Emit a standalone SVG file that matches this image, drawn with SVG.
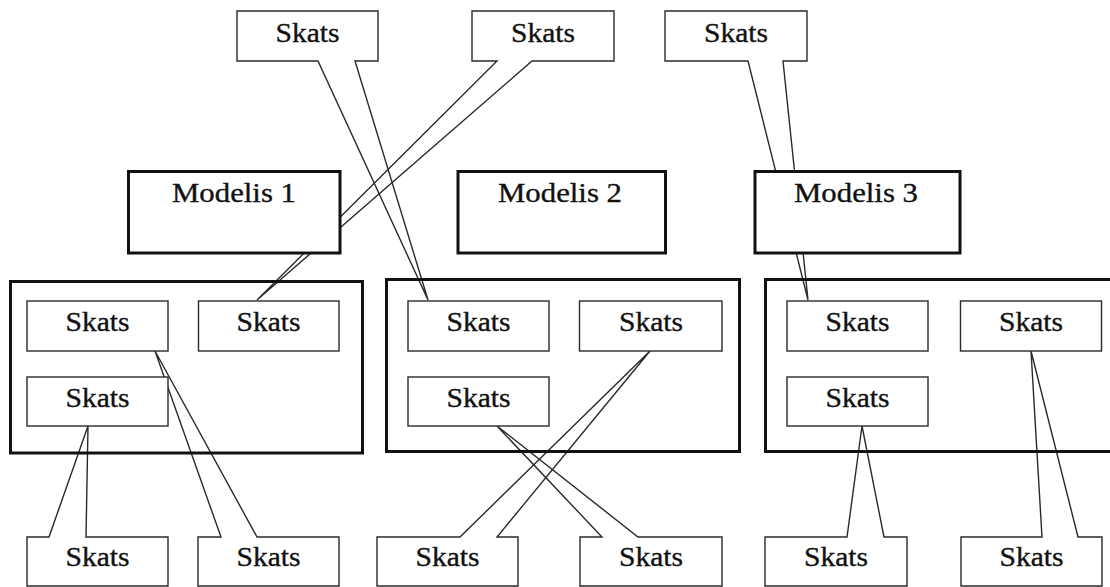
<svg xmlns="http://www.w3.org/2000/svg" width="1110" height="587" viewBox="0 0 1110 587">
<style>
.bg{fill:#ffffff}
.callout{fill:none;stroke:#2a2a2a;stroke-width:1.4;stroke-linejoin:miter}
.cont{fill:none;stroke:#111;stroke-width:3}
.model{fill:#ffffff;stroke:#111;stroke-width:3}
.box{fill:#ffffff;stroke:#2a2a2a;stroke-width:1.4}
text{font-family:"Liberation Serif","Times New Roman",serif;font-size:27px;fill:#111;stroke:#111;stroke-width:0.35;text-anchor:middle}
</style>
<rect class="bg" x="0" y="0" width="1110" height="587"/>
<g id="connectors">
<g id="callout-top-1"><path class="callout" d="M237,11 H378 V61 H355 L428,300 L318,61 H237 Z"/><text x="307.5" y="41.5" textLength="64" lengthAdjust="spacingAndGlyphs">Skats</text></g>
<g id="callout-top-2"><path class="callout" d="M472,11 H614 V61 H532 L257,300 L497,61 H472 Z"/><text x="543" y="41.5" textLength="64" lengthAdjust="spacingAndGlyphs">Skats</text></g>
<g id="callout-top-3"><path class="callout" d="M665,11 H807 V61 H783 L808,300 L748,61 H665 Z"/><text x="736" y="41.5" textLength="64" lengthAdjust="spacingAndGlyphs">Skats</text></g>
<g id="callout-bot-1"><path class="callout" d="M27,586 V537 H49 L88,426 L86,537 H168 V586 Z"/><text x="97.5" y="566" textLength="64" lengthAdjust="spacingAndGlyphs">Skats</text></g>
<g id="callout-bot-2"><path class="callout" d="M198,586 V537 H221 L155,351 L257,537 H339 V586 Z"/><text x="268.5" y="566" textLength="64" lengthAdjust="spacingAndGlyphs">Skats</text></g>
<g id="callout-bot-3"><path class="callout" d="M377,586 V537 H460 L650,351 L497,537 H518 V586 Z"/><text x="447.5" y="566" textLength="64" lengthAdjust="spacingAndGlyphs">Skats</text></g>
<g id="callout-bot-4"><path class="callout" d="M580,586 V537 H602 L497,426 L638,537 H722 V586 Z"/><text x="651" y="566" textLength="64" lengthAdjust="spacingAndGlyphs">Skats</text></g>
<g id="callout-bot-5"><path class="callout" d="M765,586 V537 H847 L862,426 L884,537 H907 V586 Z"/><text x="836" y="566" textLength="64" lengthAdjust="spacingAndGlyphs">Skats</text></g>
<g id="callout-bot-6"><path class="callout" d="M961,586 V537 H1042 L1031,351 L1078,537 H1102 V586 Z"/><text x="1031.5" y="566" textLength="64" lengthAdjust="spacingAndGlyphs">Skats</text></g>
</g>
<g id="container-1"><rect class="cont" x="10.5" y="281.5" width="352" height="171.5"/></g>
<g id="container-2"><rect class="cont" x="386.5" y="279.5" width="353" height="172"/></g>
<g id="container-3"><rect class="cont" x="765.5" y="279.5" width="360" height="172"/></g>
<g id="modelis-1"><rect class="model" x="128.5" y="171.5" width="211.5" height="81.5"/><text x="234" y="202" textLength="124" lengthAdjust="spacingAndGlyphs">Modelis 1</text></g>
<g id="modelis-2"><rect class="model" x="458" y="171.5" width="207.5" height="81.5"/><text x="560" y="202" textLength="124" lengthAdjust="spacingAndGlyphs">Modelis 2</text></g>
<g id="modelis-3"><rect class="model" x="755" y="171.5" width="205" height="81.5"/><text x="856" y="202" textLength="124" lengthAdjust="spacingAndGlyphs">Modelis 3</text></g>
<g id="c1-box-1"><rect class="box" x="27" y="301" width="141" height="50"/><text x="97.5" y="331" textLength="64" lengthAdjust="spacingAndGlyphs">Skats</text></g>
<g id="c1-box-2"><rect class="box" x="198.5" y="301" width="140.5" height="50"/><text x="268.5" y="331" textLength="64" lengthAdjust="spacingAndGlyphs">Skats</text></g>
<g id="c1-box-3"><rect class="box" x="27" y="377" width="141" height="49"/><text x="97.5" y="406.5" textLength="64" lengthAdjust="spacingAndGlyphs">Skats</text></g>
<g id="c2-box-1"><rect class="box" x="408" y="301" width="141" height="50"/><text x="478.5" y="331" textLength="64" lengthAdjust="spacingAndGlyphs">Skats</text></g>
<g id="c2-box-2"><rect class="box" x="579.5" y="301" width="142.5" height="50"/><text x="651" y="331" textLength="64" lengthAdjust="spacingAndGlyphs">Skats</text></g>
<g id="c2-box-3"><rect class="box" x="408" y="377" width="141" height="49"/><text x="478.5" y="406.5" textLength="64" lengthAdjust="spacingAndGlyphs">Skats</text></g>
<g id="c3-box-1"><rect class="box" x="787" y="301" width="141" height="50"/><text x="857.5" y="331" textLength="64" lengthAdjust="spacingAndGlyphs">Skats</text></g>
<g id="c3-box-2"><rect class="box" x="960.5" y="301" width="141" height="50"/><text x="1031" y="331" textLength="64" lengthAdjust="spacingAndGlyphs">Skats</text></g>
<g id="c3-box-3"><rect class="box" x="787" y="377" width="141" height="49"/><text x="857.5" y="406.5" textLength="64" lengthAdjust="spacingAndGlyphs">Skats</text></g>
</svg>
